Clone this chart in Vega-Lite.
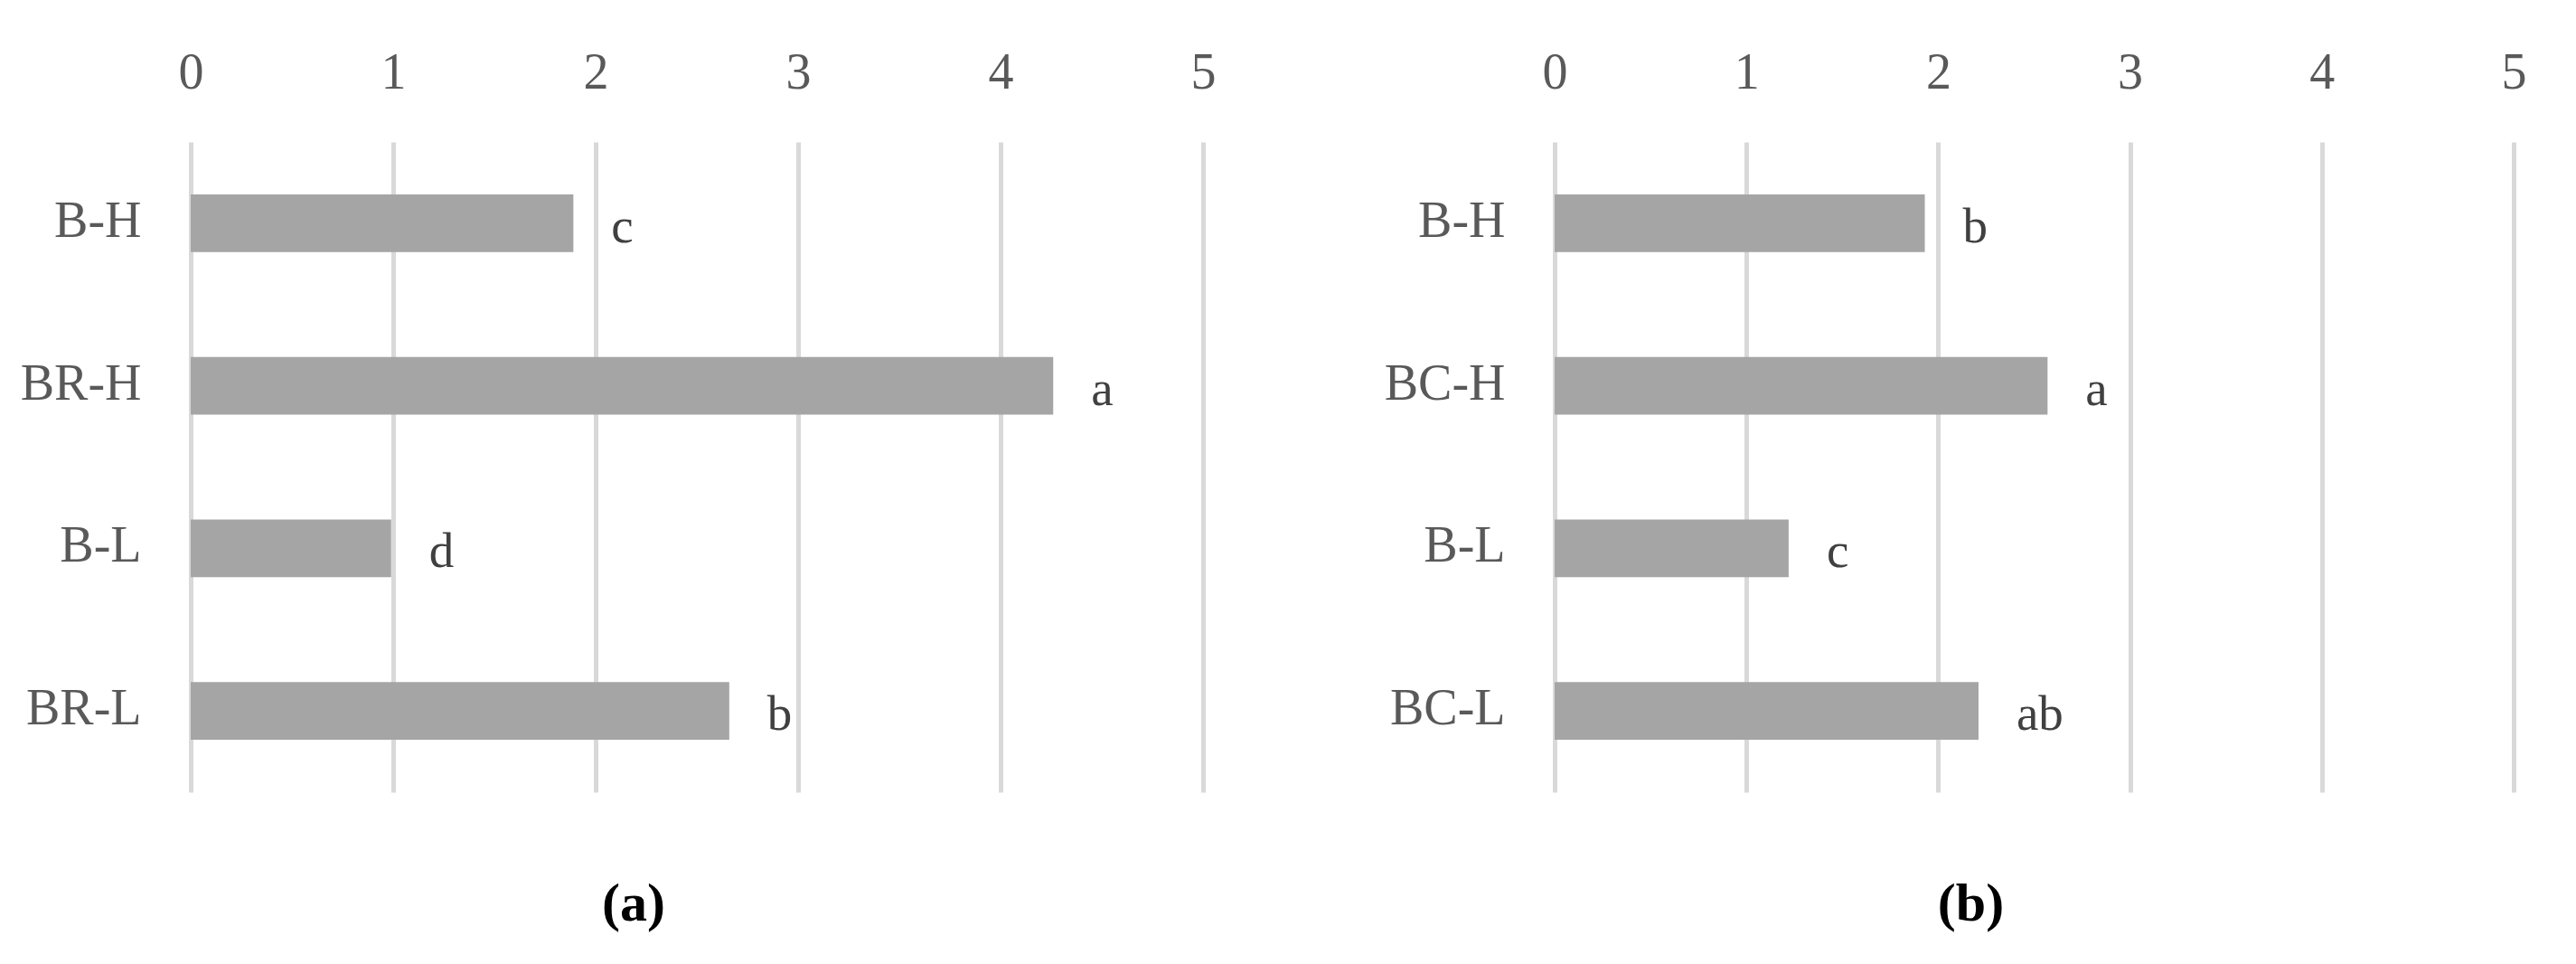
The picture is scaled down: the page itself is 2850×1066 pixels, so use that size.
{
  "$schema": "https://vega.github.io/schema/vega-lite/v6.json",
  "background": "white",
  "padding": {"left": 22, "top": 52, "right": 5, "bottom": 5},
  "spacing": 186,
  "config": {"view": {"stroke": null}, "font": "Liberation Serif"},
  "datasets": {
    "a": [
      {"group": "B-H", "value": 1.89, "letter": "c"},
      {"group": "BR-H", "value": 4.26, "letter": "a"},
      {"group": "B-L", "value": 0.99, "letter": "d"},
      {"group": "BR-L", "value": 2.66, "letter": "b"}
    ],
    "b": [
      {"group": "B-H", "value": 1.93, "letter": "b"},
      {"group": "BC-H", "value": 2.57, "letter": "a"},
      {"group": "B-L", "value": 1.22, "letter": "c"},
      {"group": "BC-L", "value": 2.21, "letter": "ab"}
    ]
  },
  "hconcat": [
    {
      "width": 1120,
      "height": 719,
      "data": {"name": "a"},
      "title": {"text": "(a)", "orient": "bottom", "anchor": "middle", "frame": "group", "dx": -70, "offset": 142, "baseline": "alphabetic", "fontSize": 60, "fontWeight": "bold", "font": "Liberation Serif", "color": "#000000"},
      "encoding": {
        "y": {"field": "group", "type": "nominal", "sort": null,
          "scale": {"paddingInner": 0.644, "paddingOuter": 0.322},
          "axis": {"title": null, "domain": false, "ticks": false, "tickSize": 0, "labelFontSize": 56, "labelColor": "#595959", "labelPadding": 55, "labelBaseline": "alphabetic", "labelOffset": 15, "labelFont": "Liberation Serif"}},
        "x": {"field": "value", "type": "quantitative",
          "scale": {"domain": [0, 5], "nice": false},
          "axis": {"orient": "top", "values": [0, 1, 2, 3, 4, 5], "format": "d", "title": null, "domain": false, "ticks": false, "tickSize": 0, "grid": true, "gridColor": "#d9d9d9", "gridWidth": 5, "labelFontSize": 56, "labelColor": "#595959", "labelPadding": 60, "labelBaseline": "alphabetic", "labelFlush": false, "labelFont": "Liberation Serif"}}
      },
      "layer": [
        {"mark": {"type": "bar", "color": "#a5a5a5"}},
        {"mark": {"type": "text", "align": "left", "baseline": "alphabetic", "dx": 42, "dy": 21, "fontSize": 55, "color": "#404040", "font": "Liberation Serif"},
          "encoding": {"text": {"field": "letter"}}}
      ]
    },
    {
      "width": 1061,
      "height": 719,
      "data": {"name": "b"},
      "title": {"text": "(b)", "orient": "bottom", "anchor": "middle", "frame": "group", "dx": -70, "offset": 142, "baseline": "alphabetic", "fontSize": 60, "fontWeight": "bold", "font": "Liberation Serif", "color": "#000000"},
      "encoding": {
        "y": {"field": "group", "type": "nominal", "sort": null,
          "scale": {"paddingInner": 0.644, "paddingOuter": 0.322},
          "axis": {"title": null, "domain": false, "ticks": false, "tickSize": 0, "labelFontSize": 56, "labelColor": "#595959", "labelPadding": 55, "labelBaseline": "alphabetic", "labelOffset": 15, "labelFont": "Liberation Serif"}},
        "x": {"field": "value", "type": "quantitative",
          "scale": {"domain": [0, 5], "nice": false},
          "axis": {"orient": "top", "values": [0, 1, 2, 3, 4, 5], "format": "d", "title": null, "domain": false, "ticks": false, "tickSize": 0, "grid": true, "gridColor": "#d9d9d9", "gridWidth": 5, "labelFontSize": 56, "labelColor": "#595959", "labelPadding": 60, "labelBaseline": "alphabetic", "labelFlush": false, "labelFont": "Liberation Serif"}}
      },
      "layer": [
        {"mark": {"type": "bar", "color": "#a5a5a5"}},
        {"mark": {"type": "text", "align": "left", "baseline": "alphabetic", "dx": 42, "dy": 21, "fontSize": 55, "color": "#404040", "font": "Liberation Serif"},
          "encoding": {"text": {"field": "letter"}}}
      ]
    }
  ]
}
